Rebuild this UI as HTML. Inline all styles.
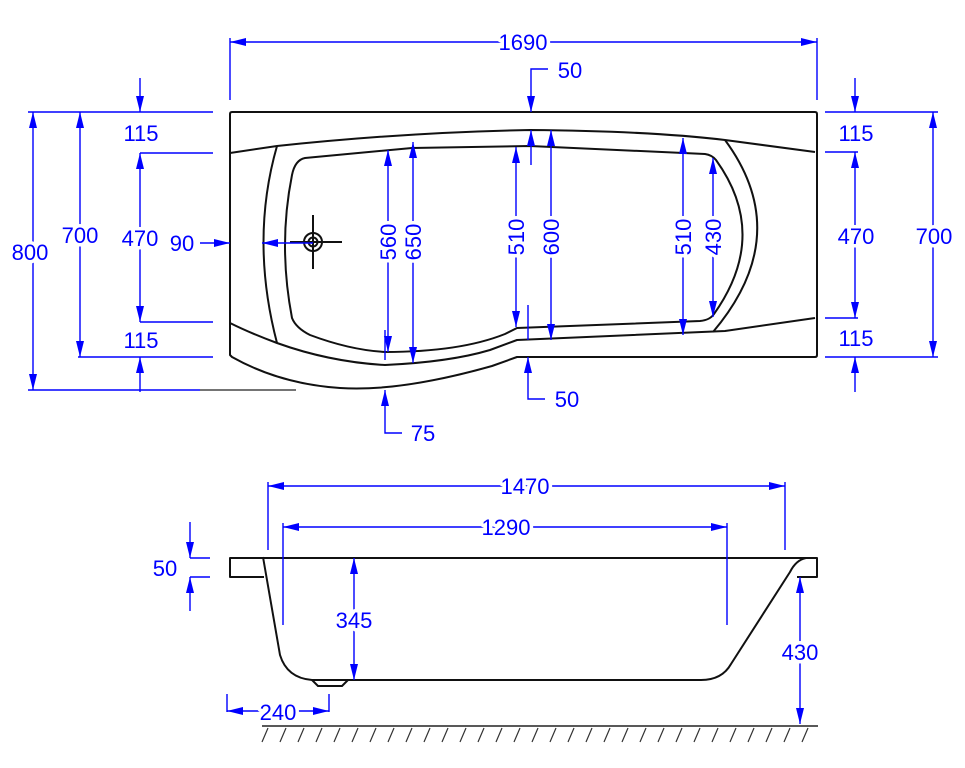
<!DOCTYPE html>
<html><head><meta charset="utf-8"><style>
html,body{margin:0;padding:0;background:#fff;width:965px;height:768px;overflow:hidden}
svg{display:block}
.b{stroke:#0000ff;stroke-width:1.4;fill:none}
.k{stroke:#111;stroke-width:2;fill:none;stroke-linejoin:round}
text{font-family:"Liberation Sans",sans-serif;font-size:22px;fill:#0000ff;text-anchor:middle;stroke:#fff;stroke-width:7px;paint-order:stroke;stroke-linejoin:round}
</style></head><body>
<svg width="965" height="768" viewBox="0 0 965 768" xmlns="http://www.w3.org/2000/svg">
<defs>
<marker id="a" viewBox="0 0 16 8" refX="16" refY="4" markerWidth="16" markerHeight="8" markerUnits="userSpaceOnUse" orient="auto-start-reverse"><path d="M0,0 L16,4 L0,8 z" fill="#0000ff"/></marker>
</defs>

<!-- ===== TOP VIEW ===== -->
<path class="k" d="M232,112 L815,112 Q817,112 817,114 L817,355 Q817,357 815,357 L517,357 L492,366 Q400,392 340,388 Q280,384 232,357 L230,355 L230,114 Q230,112 232,112 Z"/>
<path class="k" d="M230,153 L277,146 Q410,132 530,130 Q650,131 725,140 L815,152"/>
<path class="k" d="M230,323 Q250,333 277,343 Q330,362 385,365 Q450,362 490,350 L517,340 L725,331 L815,318"/>
<path class="k" d="M277,146 Q250,240 277,343"/>
<path class="k" d="M725,140 Q795,235 713,332"/>
<path class="k" d="M305,158 Q295,160 292,175 Q278,245 292,318 Q296,328 310,335 Q350,350 385,352 Q460,352 505,334 L517,328 L700,321 Q710,320 714,314 Q770,235 716,160 Q712,155 705,154 L530,146 L412,148 Z"/>
<circle cx="313" cy="242" r="9" class="k" stroke-width="1.5"/>
<circle cx="313" cy="242" r="4.5" class="k" stroke-width="1.2"/>
<path class="k" stroke-width="1.2" d="M290,242 L342,242 M313,215 L313,269"/>

<path class="b" d="M230,38 V100 M817,38 V100"/>
<path class="b" d="M230,42 H817" marker-start="url(#a)" marker-end="url(#a)"/>
<text x="523" y="50">1690</text>
<path class="b" d="M548,69 H531 V112" marker-end="url(#a)"/>
<text x="570" y="78">50</text>
<path class="b" d="M531,165 V130" marker-end="url(#a)"/>
<path class="b" d="M28,112 H213 M78,357 H213 M140,153 H213 M140,322 H213 M28,390 H200"/>
<path d="M200,390 H296" stroke="#222" stroke-width="1.3"/>
<path class="b" d="M33,112 V390" marker-start="url(#a)" marker-end="url(#a)"/>
<text x="30" y="260">800</text>
<path class="b" d="M80,112 V357" marker-start="url(#a)" marker-end="url(#a)"/>
<text x="80" y="243">700</text>
<path class="b" d="M140,153 V322" marker-start="url(#a)" marker-end="url(#a)"/>
<text x="140" y="246">470</text>
<path class="b" d="M140,78 V112" marker-end="url(#a)"/>
<path class="b" d="M140,392 V357" marker-end="url(#a)"/>
<text x="141" y="141">115</text>
<text x="141" y="348">115</text>
<path class="b" d="M200,243 H230" marker-end="url(#a)"/>
<text x="182" y="251">90</text>
<path class="b" d="M313,243 H262" marker-end="url(#a)"/>
<path class="b" d="M388,150 V352" marker-start="url(#a)" marker-end="url(#a)"/>
<text transform="translate(396,242) rotate(-90)">560</text>
<path class="b" d="M413,142 V363" marker-start="url(#a)" marker-end="url(#a)"/>
<text transform="translate(421,242) rotate(-90)">650</text>
<path class="b" d="M385,330 V360"/>
<path class="b" d="M516,147 V327" marker-start="url(#a)" marker-end="url(#a)"/>
<text transform="translate(524,237) rotate(-90)">510</text>
<path class="b" d="M551,130 V340" marker-start="url(#a)" marker-end="url(#a)"/>
<text transform="translate(559,237) rotate(-90)">600</text>
<path class="b" d="M528,305 V340"/>
<path class="b" d="M683,138 V335" marker-start="url(#a)" marker-end="url(#a)"/>
<text transform="translate(691,237) rotate(-90)">510</text>
<path class="b" d="M713,158 V317" marker-start="url(#a)" marker-end="url(#a)"/>
<text transform="translate(721,237) rotate(-90)">430</text>
<path class="b" d="M545,399 H528 V357" marker-end="url(#a)"/>
<text x="567" y="407">50</text>
<path class="b" d="M402,433 H385 V390" marker-end="url(#a)"/>
<text x="423" y="441">75</text>
<path class="b" d="M825,112 H938 M825,357 H938 M825,152 H858 M825,318 H858"/>
<path class="b" d="M855,78 V112" marker-end="url(#a)"/>
<path class="b" d="M855,392 V357" marker-end="url(#a)"/>
<path class="b" d="M855,152 V318" marker-start="url(#a)" marker-end="url(#a)"/>
<path class="b" d="M933,112 V357" marker-start="url(#a)" marker-end="url(#a)"/>
<text x="856" y="141">115</text>
<text x="856" y="244">470</text>
<text x="856" y="346">115</text>
<text x="934" y="244">700</text>

<!-- ===== SIDE VIEW ===== -->
<path class="k" d="M264,577 L230,577 L230,558 L817,558 L817,577 L797,577"/>
<path class="k" d="M263,557 L280,655 Q287,678 312,680 L701,680 Q722,680 731,664 L790,572 Q796,560 806,558"/>
<path class="k" stroke-width="1.5" d="M312,680 L318,686 L342,686 L348,680"/>
<path class="b" d="M268,482 V550 M785,482 V550"/>
<path class="b" d="M268,486 H785" marker-start="url(#a)" marker-end="url(#a)"/>
<text x="525" y="494">1470</text>
<path class="b" d="M283,523 V625 M727,523 V625"/>
<path class="b" d="M283,527 H727" marker-start="url(#a)" marker-end="url(#a)"/>
<text x="506" y="535">1290</text>
<path class="b" d="M190,558 H210 M190,577 H210"/>
<path class="b" d="M190,522 V558" marker-end="url(#a)"/>
<path class="b" d="M190,611 V577" marker-end="url(#a)"/>
<text x="165" y="576">50</text>
<path class="b" d="M354,558 V680" marker-start="url(#a)" marker-end="url(#a)"/>
<text x="354" y="628">345</text>
<path class="b" d="M800,577 V724" marker-start="url(#a)" marker-end="url(#a)"/>
<text x="800" y="660">430</text>
<path class="b" d="M227,694 V712 M329,694 V712"/>
<path class="b" d="M227,711 H329" marker-start="url(#a)" marker-end="url(#a)"/>
<text x="278" y="720">240</text>
<path d="M262,726 H818" stroke="#222" stroke-width="1.5"/>
<path stroke="#333" stroke-width="1.2" d="M268,728 l-6,14 M286,728 l-6,14 M304,728 l-6,14 M322,728 l-6,14 M340,728 l-6,14 M358,728 l-6,14 M376,728 l-6,14 M394,728 l-6,14 M412,728 l-6,14 M430,728 l-6,14 M448,728 l-6,14 M466,728 l-6,14 M484,728 l-6,14 M502,728 l-6,14 M520,728 l-6,14 M538,728 l-6,14 M556,728 l-6,14 M574,728 l-6,14 M592,728 l-6,14 M610,728 l-6,14 M628,728 l-6,14 M646,728 l-6,14 M664,728 l-6,14 M682,728 l-6,14 M700,728 l-6,14 M718,728 l-6,14 M736,728 l-6,14 M754,728 l-6,14 M772,728 l-6,14 M790,728 l-6,14 M808,728 l-6,14"/>
</svg>
</body></html>
